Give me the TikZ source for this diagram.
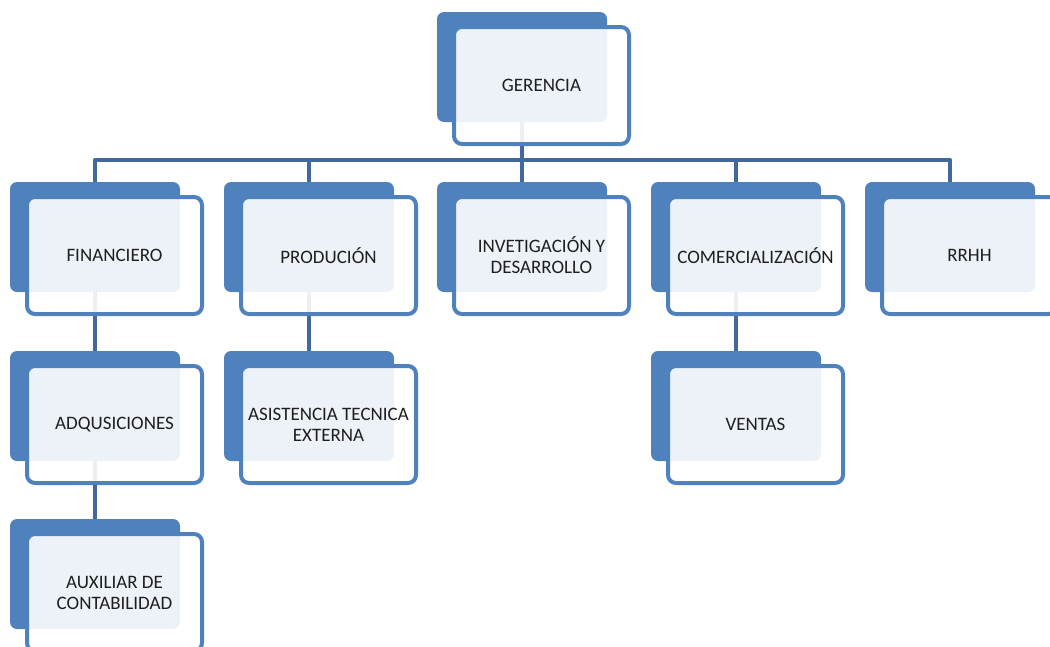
\documentclass[tikz,border=0pt]{standalone}
\usepackage{fontspec}
\setmainfont{Carlito}
\definecolor{boxblue}{HTML}{4F81BD}
\definecolor{linkblue}{HTML}{41699E}
\definecolor{txt}{HTML}{1E1E1E}
\pgfdeclarelayer{connlayer}
\pgfsetlayers{connlayer,main}
\begin{document}
\begin{tikzpicture}[x=1pt,y=-1pt,
  backbox/.style={draw=none,fill=boxblue,rounded corners=7pt,minimum width=170pt,minimum height=110pt,inner sep=0pt},
  frontbox/.style={draw=boxblue,line width=4pt,fill=white,fill opacity=0.9,text opacity=1,rounded corners=8pt,minimum width=175pt,minimum height=117pt,inner sep=0pt,align=center,font=\fontsize{19}{21}\selectfont,text=txt},
  conn/.style={draw=linkblue,line width=4.5pt,line join=round}]
\useasboundingbox (0,0) rectangle (1050,646);
% back boxes (centres = left+85, top+55)
\node[backbox] (gerB) at (522,67) {};
\node[backbox] (finB) at (95,237) {};
\node[backbox] (proB) at (309,237) {};
\node[backbox] (invB) at (522,237) {};
\node[backbox] (comB) at (736,237) {};
\node[backbox] (rrhB) at (950,237) {};
\node[backbox] (adqB) at (95,406) {};
\node[backbox] (asiB) at (309,406) {};
\node[backbox] (venB) at (736,406) {};
\node[backbox] (auxB) at (95,574) {};
% connectors (behind the boxes)
\coordinate (bar) at (0,160);
\begin{pgfonlayer}{connlayer}
\foreach \c in {finB,proB,invB,comB,rrhB}{
  \draw[conn] (gerB.south) -- (gerB.south |- bar) -| (\c.north);
}
\draw[conn] (finB.south) -- (adqB.north);
\draw[conn] (adqB.south) -- (auxB.north);
\draw[conn] (proB.south) -- (asiB.north);
\draw[conn] (comB.south) -- (venB.north);
\end{pgfonlayer}
% front boxes (centres = back left+104.5, back top+73.5)
\node[frontbox] (ger) at (541.5,85.5) {GERENCIA};
\node[frontbox] (fin) at (114.5,255.5) {FINANCIERO};
\node[frontbox] (pro) at (328.5,255.5) {PRODUCIÓN};
\node[frontbox] (inv) at (541.5,255.5) {INVETIGACIÓN Y\\DESARROLLO};
\node[frontbox] (com) at (755.5,255.5) {COMERCIALIZACIÓN};
\node[frontbox] (rrh) at (969.5,255.5) {RRHH};
\node[frontbox] (adq) at (114.5,424.5) {ADQUSICIONES};
\node[frontbox] (asi) at (328.5,424.5) {ASISTENCIA TECNICA\\EXTERNA};
\node[frontbox] (ven) at (755.5,424.5) {VENTAS};
\node[frontbox] (aux) at (114.5,592.5) {AUXILIAR DE\\CONTABILIDAD};
\end{tikzpicture}
\end{document}
